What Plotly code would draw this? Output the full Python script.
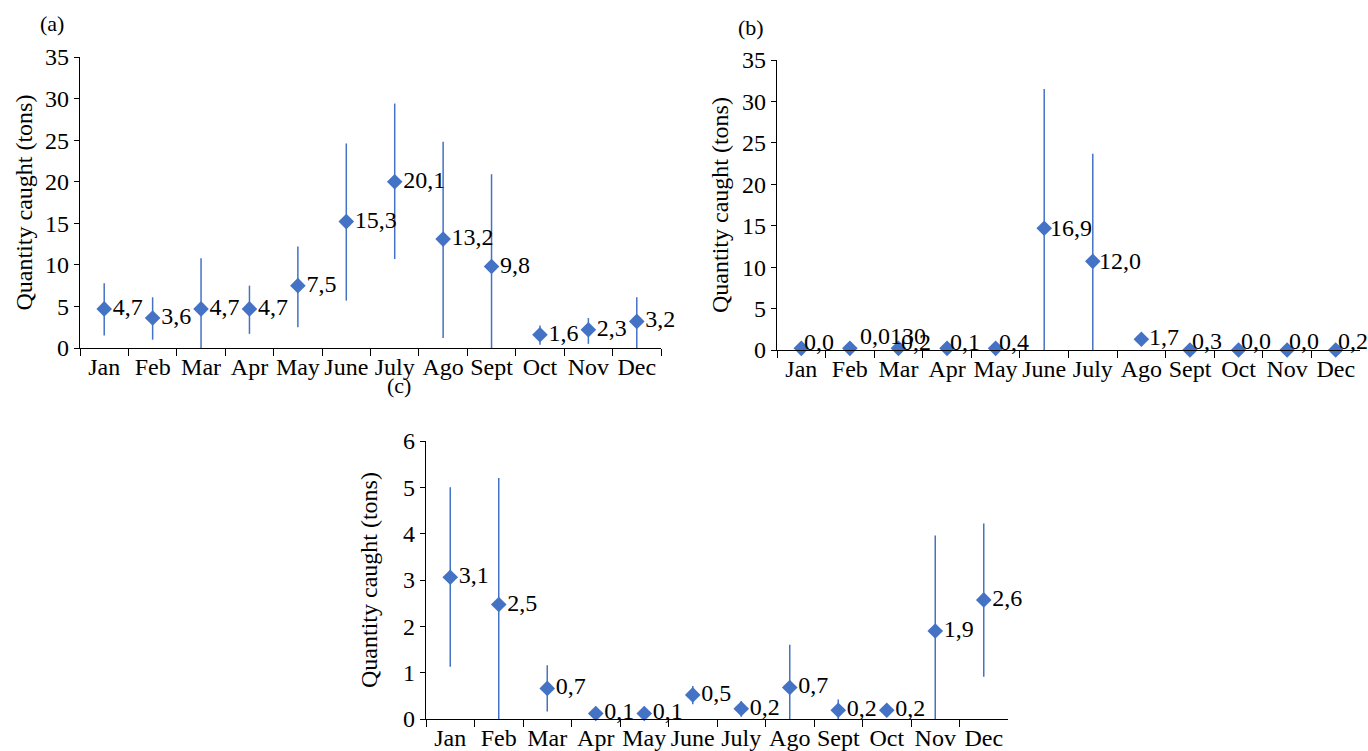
import plotly.graph_objects as go

W, H = 1368, 751

months = ["Jan", "Feb", "Mar", "Apr", "May", "June", "July", "Ago", "Sept", "Oct", "Nov", "Dec"]

# Panel (a)
a_values = [4.7, 3.6, 4.7, 4.7, 7.5, 15.2, 20.0, 13.1, 9.8, 1.6, 2.2, 3.2]
a_upper = [7.8, 6.1, 10.8, 7.5, 12.2, 24.6, 29.4, 24.8, 20.9, 2.7, 3.6, 6.1]
a_lower = [1.5, 1.0, 0.0, 1.7, 2.5, 5.7, 10.7, 1.2, 0.0, 0.4, 0.5, 0.0]
a_labels = ["4,7", "3,6", "4,7", "4,7", "7,5", "15,3", "20,1", "13,2", "9,8", "1,6", "2,3", "3,2"]

# Panel (b)
b_values = [0.2, 0.2, 0.2, 0.2, 0.2, 14.7, 10.7, 1.3, 0.0, 0.0, 0.0, 0.0]
b_upper = [0.2, 0.2, 0.2, 0.2, 0.2, 31.5, 23.7, 1.3, 0.0, 0.0, 0.0, 0.0]
b_lower = [0.2, 0.2, 0.2, 0.2, 0.2, 0.0, 0.0, 1.3, 0.0, 0.0, 0.0, 0.0]
b_labels = ["0,0", "0,0130", "0,2", "0,1", "0,4", "16,9", "12,0", "1,7", "0,3", "0,0", "0,0", "0,2"]

# Panel (c)
c_values = [3.06, 2.47, 0.66, 0.12, 0.12, 0.52, 0.22, 0.68, 0.19, 0.19, 1.9, 2.57]
c_upper = [5.0, 5.2, 1.16, 0.12, 0.12, 0.71, 0.39, 1.6, 0.42, 0.19, 3.96, 4.22]
c_lower = [1.13, 0.0, 0.16, 0.12, 0.12, 0.32, 0.05, 0.0, 0.0, 0.19, 0.0, 0.91]
c_labels = ["3,1", "2,5", "0,7", "0,1", "0,1", "0,5", "0,2", "0,7", "0,2", "0,2", "1,9", "2,6"]

BLUE = "#4472C4"
FONT = "Liberation Serif"
FS = 24

# pixel boxes: (left, right, top, bottom)
boxes = {
    "a": (80, 661, 57, 348),
    "b": (777, 1360, 60, 350),
    "c": (426, 1008, 441, 719),
}

def px_dom_x(l, r):
    return [l / W, r / W]

def px_dom_y(t, b):
    return [1 - b / H, 1 - t / H]

fig = go.Figure()

panels = [
    ("a", "x", "y", a_values, a_upper, a_lower, a_labels, 35, 5, True),
    ("b", "x2", "y2", b_values, b_upper, b_lower, b_labels, 35, 5, False),
    ("c", "x3", "y3", c_values, c_upper, c_lower, c_labels, 6, 1, True),
]

for key, xa, ya, vals, up, lo, labs, ymax, dt, use_text in panels:
    plus = [max(u - v, 0) for u, v in zip(up, vals)]
    minus = [max(v - l, 0) for v, l in zip(vals, lo)]
    fig.add_trace(go.Scatter(
        x=months, y=vals, xaxis=xa, yaxis=ya,
        mode="markers+text" if use_text else "markers",
        text=labs if use_text else None, textposition="middle right",
        textfont=dict(family=FONT, size=FS, color="black"),
        marker=dict(symbol="diamond", size=12, color=BLUE),
        error_y=dict(type="data", symmetric=False, array=plus, arrayminus=minus,
                     width=0, thickness=1.5, color=BLUE),
        cliponaxis=False, showlegend=False, hoverinfo="skip",
    ))

layout = dict(
    width=W, height=H,
    margin=dict(l=0, r=0, t=0, b=0, autoexpand=False),
    paper_bgcolor="white", plot_bgcolor="white",
    font=dict(family=FONT, size=FS, color="black"),
    showlegend=False,
)

axis_names = {"a": ("xaxis", "yaxis", "y", "x"), "b": ("xaxis2", "yaxis2", "y2", "x2"), "c": ("xaxis3", "yaxis3", "y3", "x3")}
for key, xa, ya, vals, up, lo, labs, ymax, dt, use_text in panels:
    l, r, t, b = boxes[key]
    xname, yname, yanchor, xanchor = axis_names[key]
    layout[xname] = dict(
        domain=px_dom_x(l, r), anchor=yanchor, type="category",
        categoryorder="array", categoryarray=months,
        range=[-0.5, 11.5], showline=True, linecolor="black", linewidth=1.2,
        ticks="outside", tickson="boundaries", ticklen=7, tickcolor="black", tickwidth=1.2,
        tickangle=0, automargin=False, ticklabelstandoff=-3,
        showgrid=False, zeroline=False, tickfont=dict(family=FONT, size=FS),
    )
    layout[yname] = dict(
        domain=px_dom_y(t, b), anchor=xanchor, range=[0, ymax], dtick=dt,
        showline=True, linecolor="black", linewidth=1.2,
        ticks="outside", ticklen=5, tickcolor="black", tickwidth=1.2,
        automargin=False,
        showgrid=False, zeroline=False, tickfont=dict(family=FONT, size=FS),
    )

fig.update_layout(**layout)

annotations = []
# panel (b) value labels (placement style only)
b_xshift = [1, 14, 1, 1, 1, 4, 4, 6, 0, 0, 0, 0]
b_yshift = [6, 12, 6, 6, 6, 0, 0, 2, 9, 9, 9, 9]
b_anchor = ["left", "center", "left", "left", "left", "left", "left", "left", "left", "left", "left", "left"]
for i, m in enumerate(months):
    xs = b_xshift[i] + (29 if b_anchor[i] == "center" else 0)
    annotations.append(dict(
        text=b_labels[i], x=m, y=b_values[i], xref="x2", yref="y2",
        xanchor=b_anchor[i], yanchor="middle", xshift=xs, yshift=b_yshift[i],
        showarrow=False, font=dict(family=FONT, size=FS, color="black"),
    ))

for key in ["a", "b", "c"]:
    l, r, t, b = boxes[key]
    annotations.append(dict(
        text="Quantity caught (tons)", textangle=-90,
        x=(l - 57) / W, y=1 - ((t + b) / 2) / H, xref="paper", yref="paper",
        xanchor="center", yanchor="middle", showarrow=False,
        font=dict(family=FONT, size=FS, color="black"),
    ))
panel_pos = {"a": (52, 24), "b": (751, 27), "c": (399, 385)}
for key, lab in [("a", "(a)"), ("b", "(b)"), ("c", "(c)")]:
    px, py = panel_pos[key]
    annotations.append(dict(
        text=lab, x=px / W, y=1 - py / H, xref="paper", yref="paper",
        xanchor="center", yanchor="middle", showarrow=False,
        font=dict(family=FONT, size=22, color="black"),
    ))
fig.update_layout(annotations=annotations)

fig.write_html("out.html", config={"displayModeBar": False},
               post_script="document.body.style.margin='0';document.body.style.overflow='hidden';")
